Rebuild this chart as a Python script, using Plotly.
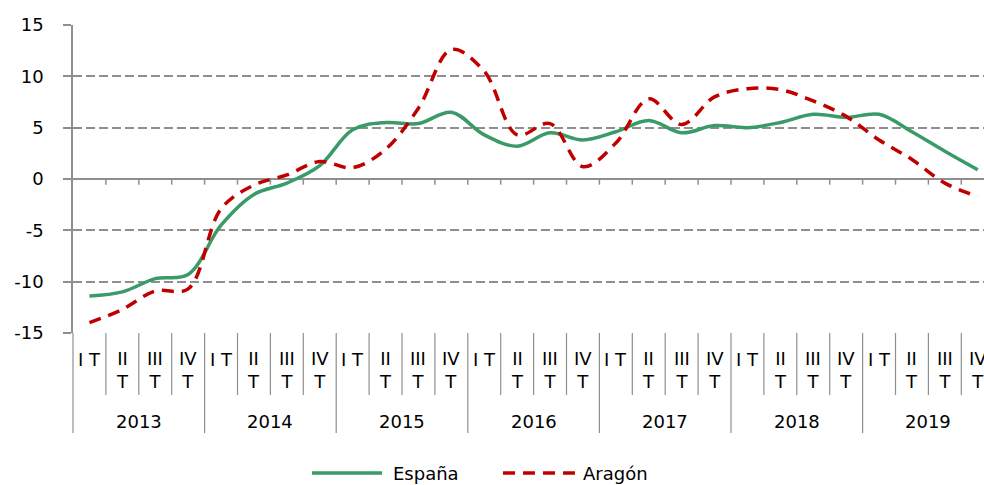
import plotly.graph_objects as go

years = ["2013", "2014", "2015", "2016", "2017", "2018", "2019"]
quarters = ["I T", "II T", "III T", "IV T"]
quarter_labels = ["I T", "II<br>T", "III<br>T", "IV<br>T"]

espana = [-11.4, -11.0, -9.7, -9.3,
          -4.5, -1.5, -0.4, 1.3,
          4.8, 5.5, 5.4, 6.5,
          4.3, 3.2, 4.5, 3.8,
          4.6, 5.7, 4.5, 5.2,
          5.0, 5.5, 6.3, 6.0,
          6.3, 4.6, 2.7, 0.9]
aragon = [-14.0, -12.7, -10.9, -10.7,
          -2.9, -0.6, 0.4, 1.7,
          1.1, 2.9, 6.9, 12.6,
          10.5, 4.3, 5.4, 1.2,
          3.5, 7.8, 5.3, 8.0,
          8.8, 8.7, 7.6, 6.1,
          3.8, 1.9, -0.4, -1.7]

y_tickvals = [-15, -10, -5, 0, 5, 10, 15]
y_ticktext = ["-15", "-10", "-5", "0", "5", "10", "15"]

n = len(years) * len(quarters)
xs = list(range(n))

W, H = 984, 485
ML, MR, MT, MB = 73, 0, 25, 152
PW = W - ML - MR
PH = H - MT - MB
CAT_W = 32.9
XMIN = -0.5
XMAX = XMIN + PW / CAT_W

GRAY = "#8f8f8f"
GREEN = "#3a9a68"
RED = "#c00000"
FONT = "DejaVu Sans"
FS = 18


def px_to_paper_x(px):
    return (px - ML) / PW


def py_to_paper_y(py):
    return (MT + PH - py) / PH


def data_to_paper_x(x):
    return (x - XMIN) / (XMAX - XMIN)


fig = go.Figure()
fig.add_trace(go.Scatter(x=xs, y=espana, mode="lines", name="España",
                         line=dict(color=GREEN, width=3.5, shape="spline"),
                         showlegend=False))
fig.add_trace(go.Scatter(x=xs, y=aragon, mode="lines", name="Aragón",
                         line=dict(color=RED, width=3.5, shape="spline", dash="12px,8px"),
                         showlegend=False))

shapes = []
annotations = []

# x axis tick marks at zero line and category separators below the plot
for k in range(n + 1):
    xb = k - 0.5
    px_ = data_to_paper_x(xb)
    if k > 0:
        shapes.append(dict(type="line", xref="paper", yref="y", x0=px_, x1=px_,
                           y0=0, y1=-0.55, line=dict(color=GRAY, width=1.5)))
    bottom = 433 if k % 4 == 0 else 395
    shapes.append(dict(type="line", xref="paper", yref="paper", x0=px_, x1=px_,
                       y0=py_to_paper_y(MT + PH), y1=py_to_paper_y(bottom),
                       line=dict(color=GRAY, width=1.2)))

# category labels
for yi, yr in enumerate(years):
    for qi, ql in enumerate(quarter_labels):
        idx = yi * 4 + qi
        yc = 359 if "<br>" not in ql else 370
        annotations.append(dict(x=idx, y=py_to_paper_y(yc), xref="x", yref="paper",
                                text=ql, showarrow=False, xanchor="center", yanchor="middle",
                                font=dict(family=FONT, size=FS, color="#000000")))
    annotations.append(dict(x=yi * 4 + 1.5, y=py_to_paper_y(421.5), xref="x", yref="paper",
                            text=yr, showarrow=False, xanchor="center", yanchor="middle",
                            font=dict(family=FONT, size=FS, color="#000000")))

# manual legend
LEG_Y = py_to_paper_y(473)
shapes.append(dict(type="line", xref="paper", yref="paper",
                   x0=px_to_paper_x(312), x1=px_to_paper_x(382), y0=LEG_Y, y1=LEG_Y,
                   line=dict(color=GREEN, width=3.5)))
shapes.append(dict(type="line", xref="paper", yref="paper",
                   x0=px_to_paper_x(503), x1=px_to_paper_x(575), y0=LEG_Y, y1=LEG_Y,
                   line=dict(color=RED, width=3.5, dash="12px,8px")))
annotations.append(dict(x=px_to_paper_x(391), y=LEG_Y, xref="paper", yref="paper",
                        text="España", showarrow=False, xanchor="left", yanchor="middle",
                        font=dict(family=FONT, size=FS, color="#000000")))
annotations.append(dict(x=px_to_paper_x(581), y=LEG_Y, xref="paper", yref="paper",
                        text="Aragón", showarrow=False, xanchor="left", yanchor="middle",
                        font=dict(family=FONT, size=FS, color="#000000")))

fig.update_layout(
    width=W, height=H,
    margin=dict(l=ML, r=MR, t=MT, b=MB, pad=0),
    paper_bgcolor="white", plot_bgcolor="white",
    showlegend=False,
    font=dict(family=FONT, size=FS, color="#000000"),
    xaxis=dict(range=[XMIN, XMAX], showgrid=False, zeroline=False, showline=False,
               showticklabels=False, ticks="", fixedrange=True),
    yaxis=dict(range=[-15, 15], tickvals=y_tickvals, ticktext=y_ticktext,
               showgrid=True, gridcolor=GRAY, gridwidth=1.5, griddash="9px,4px",
               zeroline=True, zerolinecolor=GRAY, zerolinewidth=1.5,
               showline=True, linecolor=GRAY, linewidth=1.5,
               ticks="outside", ticklen=8, tickcolor=GRAY, tickwidth=1.5,
               ticklabelstandoff=16,
               tickfont=dict(family=FONT, size=FS, color="#000000")),
    shapes=shapes,
    annotations=annotations,
)

fig.write_html("out.html",
               config={"displayModeBar": False},
               post_script="document.body.style.margin='0';document.body.style.overflow='hidden';")
